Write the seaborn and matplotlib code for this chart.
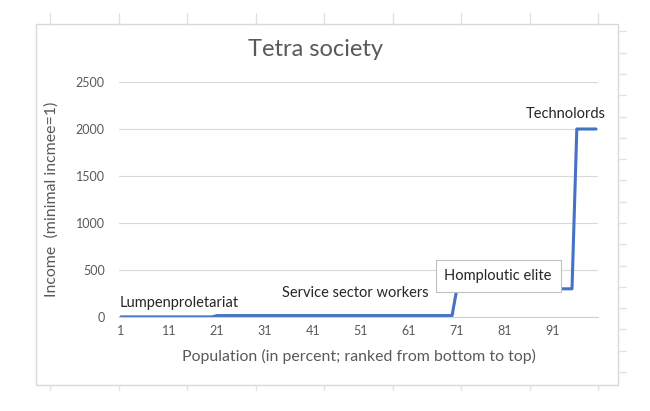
"""
Tetra society: income by population percentile (Excel-style step chart).
"""

import matplotlib
matplotlib.use("Agg")
import matplotlib.pyplot as plt
from matplotlib.patches import Rectangle
import seaborn as sns
import pandas as pd

sns.set_style("white")
plt.rcParams['font.family'] = ['Lato', 'DejaVu Sans']

# ============================================================================
# DATA
# ============================================================================

# population percentile, ranked from bottom to top
population = list(range(1, 101))

# income relative to minimal income, one value per percentile
income = [
    1, 1, 1, 1, 1, 1, 1, 1, 1, 1,
    1, 1, 1, 1, 1, 1, 1, 1, 1, 1,
    15, 15, 15, 15, 15, 15, 15, 15, 15, 15,
    15, 15, 15, 15, 15, 15, 15, 15, 15, 15,
    15, 15, 15, 15, 15, 15, 15, 15, 15, 15,
    15, 15, 15, 15, 15, 15, 15, 15, 15, 15,
    15, 15, 15, 15, 15, 15, 15, 15, 15, 15,
    300, 300, 300, 300, 300, 300, 300, 300, 300, 300,
    300, 300, 300, 300, 300, 300, 300, 300, 300, 300,
    300, 300, 300, 300, 300, 2000, 2000, 2000, 2000, 2000,
]

x_tick_labels = [1, 11, 21, 31, 41, 51, 61, 71, 81, 91]
y_ticks = [0, 500, 1000, 1500, 2000, 2500]

# class labels: (text, x, y)
class_labels = [
    ('Lumpenproletariat', 0.8, 110),
    ('Service sector workers', 34.6, 210),
    ('Technolords', 85.4, 2114),
]
boxed_label = ('Homploutic elite', 79.6, 436)

df = pd.DataFrame({'population': population, 'income': income})

# ============================================================================
# FIGURE
# ============================================================================

W, H = 650, 411
fig = plt.figure(figsize=(W / 100, H / 100), dpi=100)

# spreadsheet background (pixel coordinates)
bg = fig.add_axes([0, 0, 1, 1])
bg.set_xlim(0, W)
bg.set_ylim(H, 0)
bg.axis('off')
sheet_grey = '#e2e2e2'
for cx in [50, 118.5, 187, 255.5, 324, 392.5, 461, 529.5, 598]:
    bg.plot([cx, cx], [13, 24], color=sheet_grey, lw=1)
    bg.plot([cx, cx], [385, 390], color=sheet_grey, lw=1)
for k in range(17):
    ry = 31.5 + 21.28 * k
    bg.plot([618, 626], [ry, ry], color=sheet_grey, lw=1)
bg.add_patch(Rectangle((36, 24), 582, 361, facecolor='white',
                       edgecolor='#d9d9d9', lw=1))

bg.text(315, 50, 'Tetra society', ha='center', va='center',
        fontsize=17, color='#595959')

# main plot area
left, right, bottom_px, top_px = 118.6, 598.4, 317, 82
ax = fig.add_axes([left / W, (H - bottom_px) / H,
                   (right - left) / W, (bottom_px - top_px) / H])
ax.set_facecolor('none')

sns.lineplot(data=df, x='population', y='income', ax=ax,
             color='#4472C4', linewidth=2.2)

ax.set_xlim(0.5, 100.5)
ax.set_ylim(0, 2500)
ax.set_xticks(x_tick_labels)
ax.set_xticklabels([str(v) for v in x_tick_labels])
ax.set_xticks([p - 0.5 for p in population] + [100.5], minor=True)
ax.set_yticks(y_ticks)
ax.set_yticklabels([str(v) for v in y_ticks])

ax.tick_params(axis='x', which='major', length=0, pad=6,
               labelsize=9, labelcolor='#595959')
ax.tick_params(axis='x', which='minor', length=3, width=0.8,
               color='#d0d0d0', direction='out')
ax.tick_params(axis='y', length=0, pad=10, labelsize=9, labelcolor='#595959')

ax.grid(True, axis='y', color='#d9d9d9', linewidth=0.8)
ax.set_axisbelow(True)
for side in ['top', 'right', 'left']:
    ax.spines[side].set_visible(False)
ax.spines['bottom'].set_color('#d0d0d0')
ax.spines['bottom'].set_linewidth(0.8)

ax.set_xlabel('Population (in percent; ranked from bottom to top)',
              fontsize=11.4, color='#595959', labelpad=8)
ax.set_ylabel('Income  (minimal incmee=1)', fontsize=11.4,
              color='#595959', labelpad=12)

for text, tx, ty in class_labels:
    ax.text(tx, ty, text, ha='left', va='baseline', fontsize=10.5,
            color='#262626')

text, tx, ty = boxed_label
ax.text(tx, ty, text, ha='center', va='center', fontsize=10.5,
        color='#262626',
        bbox=dict(boxstyle='square,pad=0.6', facecolor='white',
                  edgecolor='#bfbfbf', linewidth=0.8))

fig.savefig('out.png', dpi=100)
print("[OK] Saved: out.png")
